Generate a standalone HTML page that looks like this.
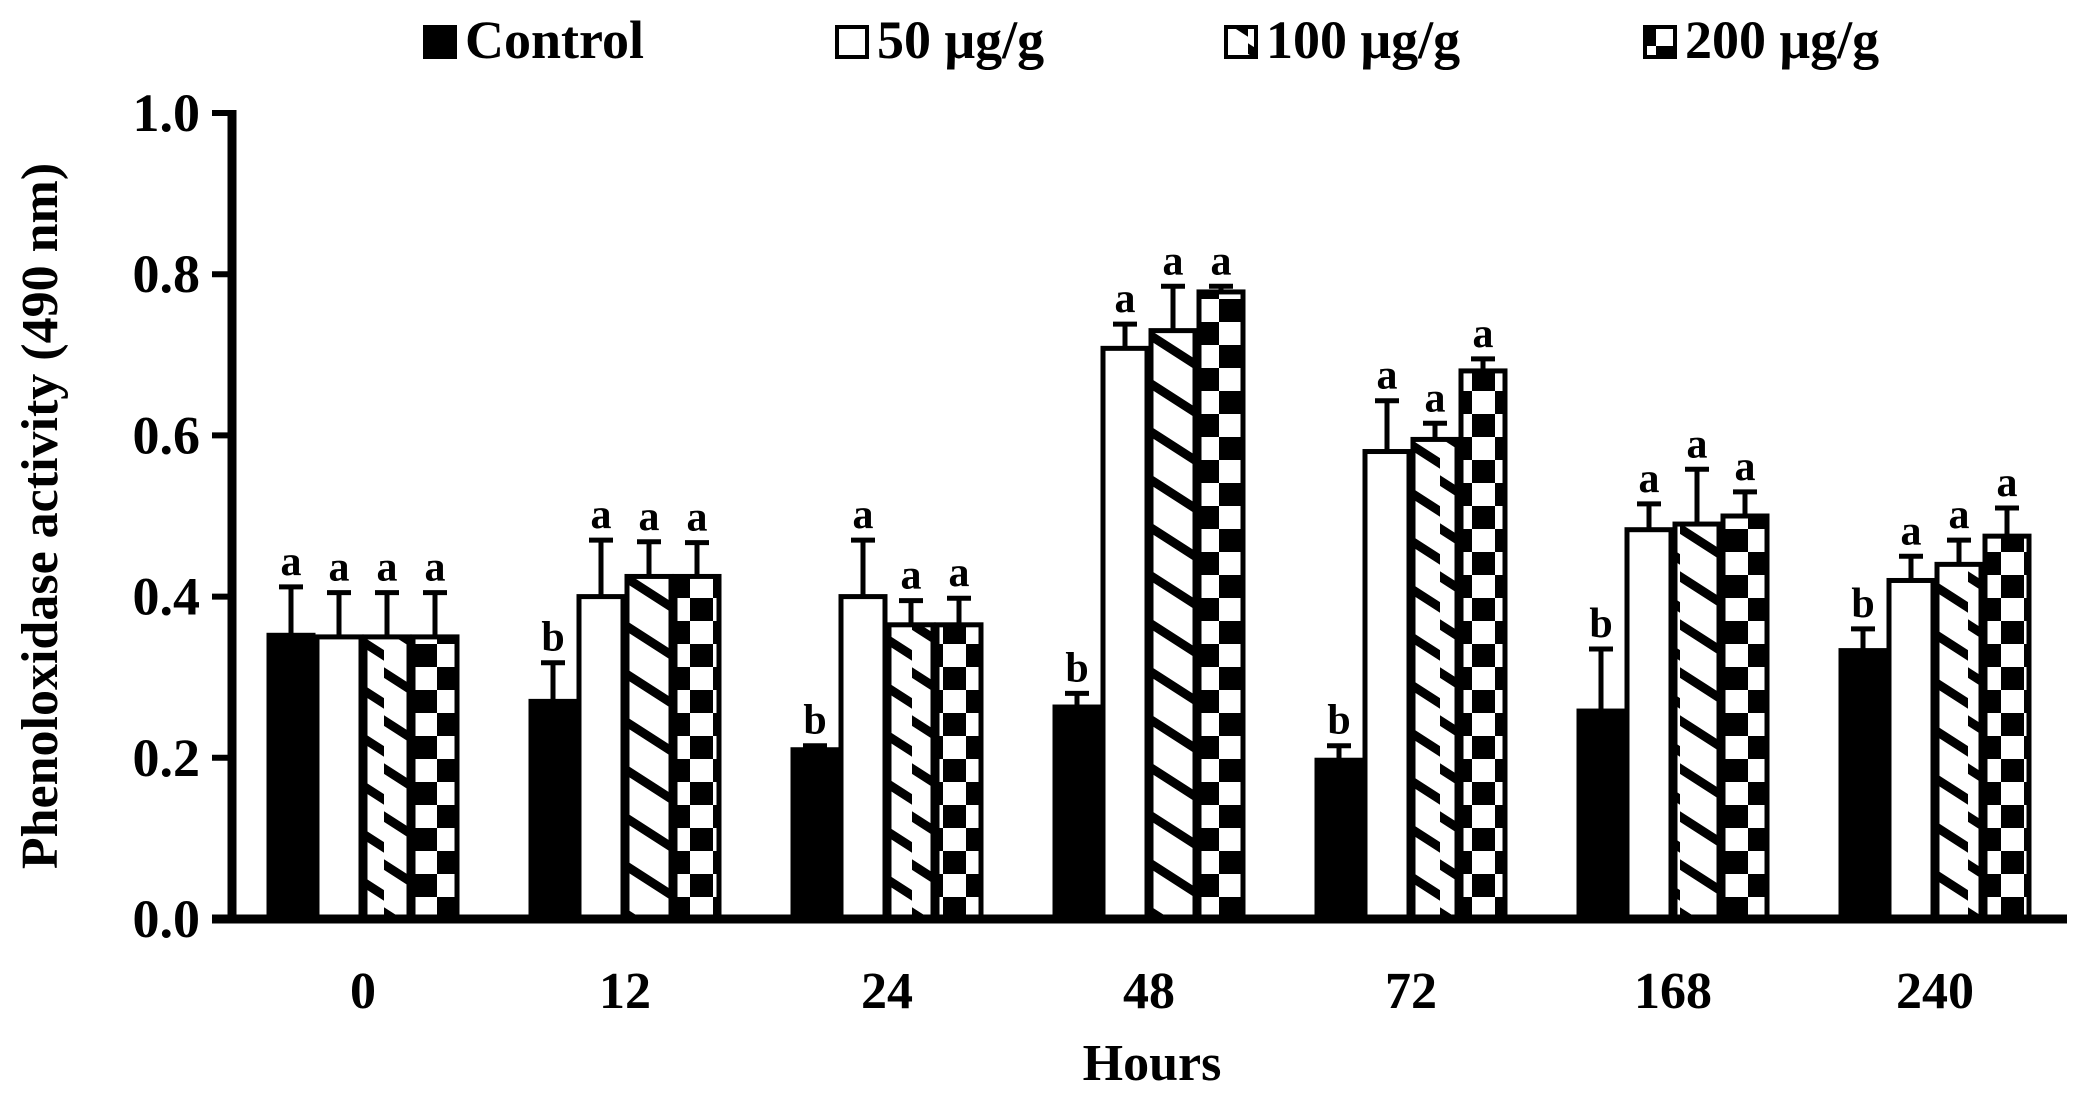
<!DOCTYPE html>
<html><head><meta charset="utf-8"><style>
html,body{margin:0;padding:0;background:#fff;}
svg{display:block;font-family:"Liberation Serif",serif;font-weight:bold;}
</style></head><body>
<svg id="chart" width="2086" height="1104" viewBox="0 0 2086 1104" xmlns="http://www.w3.org/2000/svg">
<defs>
<pattern id="diag" patternUnits="userSpaceOnUse" width="48" height="48">
<rect width="48" height="48" fill="#fff"/>
<path d="M-4,-50 L52,-14 M-4,-2 L52,34 M-4,46 L52,82" stroke="#000" stroke-width="9" fill="none"/>
</pattern>
<pattern id="check" patternUnits="userSpaceOnUse" width="46" height="46">
<rect width="46" height="46" fill="#fff"/>
<rect x="0" y="0" width="23" height="23" fill="#000"/>
<rect x="23" y="23" width="23" height="23" fill="#000"/>
</pattern>
</defs>
<g id="plot"></g>
</svg>
<script>
const categories = ["0","12","24","48","72","168","240"];
const seriesNames = ["Control","50 μg/g","100 μg/g","200 μg/g"];
const control = [0.352,0.27,0.21,0.263,0.197,0.258,0.333];
const dose50 = [0.35,0.40,0.40,0.708,0.58,0.483,0.42];
const dose100 = [0.35,0.425,0.365,0.73,0.595,0.49,0.44];
const dose200 = [0.35,0.425,0.365,0.778,0.68,0.50,0.475];
const errControl = [0.06,0.048,0.005,0.017,0.018,0.077,0.027];
const err50 = [0.055,0.07,0.07,0.03,0.063,0.032,0.03];
const err100 = [0.055,0.043,0.03,0.055,0.02,0.068,0.03];
const err200 = [0.055,0.042,0.033,0.007,0.015,0.03,0.035];
const lettersControl = ["a","b","b","b","b","b","b"];
const letters50 = ["a","a","a","a","a","a","a"];
const letters100 = ["a","a","a","a","a","a","a"];
const letters200 = ["a","a","a","a","a","a","a"];
const yTicks = [0,0.2,0.4,0.6,0.8,1.0];

const NS="http://www.w3.org/2000/svg";
const g=document.getElementById('plot');
const x0=232, y0=919, yTop=113, groupStart=363, groupStep=262, barW=48;
const yScale=v=>y0-(v/1.0)*(y0-yTop);
const xGroup=i=>groupStart+i*groupStep;
function mk(tag,attrs){const e=document.createElementNS(NS,tag);for(const k in attrs)e.setAttribute(k,attrs[k]);g.appendChild(e);return e;}

const series=[control,dose50,dose100,dose200];
const errs=[errControl,err50,err100,err200];
const letters=[lettersControl,letters50,letters100,letters200];
const fills=["#000","#fff","url(#diag)","url(#check)"];

categories.forEach((c,i)=>{
  series.forEach((s,j)=>{
    const left=xGroup(i)-2*barW+j*barW;
    const top=yScale(s[i]);
    const r=mk('rect',{x:left+2,y:top,width:barW-4,height:y0-top,fill:fills[j],stroke:"#000","stroke-width":5});
    
    
    const cx=left+barW/2;
    const et=yScale(s[i]+errs[j][i]);
    const e=mk('path',{d:`M${cx},${top} L${cx},${et} M${cx-12},${et} L${cx+12},${et}`,stroke:"#000","stroke-width":5,fill:"none"});
    
    
    const t=mk('text',{x:cx,y:et-12,"font-size":42,"text-anchor":"middle"});
    t.textContent=letters[j][i];
    
    
  });
  const tl=mk('text',{x:xGroup(i),y:1008,"font-size":52,"text-anchor":"middle"});
  tl.textContent=c;
  
  
});

yTicks.forEach(v=>{
  const y=yScale(v);
  const tk=mk('line',{x1:x0-20,x2:x0,y1:y,y2:y,stroke:"#000","stroke-width":6});
  
  
  const t=mk('text',{x:200,y:y+18,"font-size":54,"text-anchor":"end"});
  t.textContent=v.toFixed(1);
  
  
});

const ya=mk('line',{x1:x0,x2:x0,y1:yTop-3,y2:y0+4,stroke:"#000","stroke-width":9});


const xa=mk('line',{x1:x0-20,x2:2067,y1:y0,y2:y0,stroke:"#000","stroke-width":9});



const xt=mk('text',{x:1152,y:1080,"font-size":52,"text-anchor":"middle"});
xt.textContent="Hours";


const yt=mk('text',{x:0,y:0,"font-size":52,"text-anchor":"middle",transform:"translate(57,516) rotate(-90)"});
yt.textContent="Phenoloxidase activity (490 nm)";



const legX=[423,835,1224,1643];
const legFill=["#000","#fff","url(#diag)","url(#check)"];
seriesNames.forEach((n,j)=>{
  const b=mk('rect',{x:legX[j]+2,y:27,width:30,height:30,fill:legFill[j],stroke:"#000","stroke-width":4});
  
  
  const t=mk('text',{x:legX[j]+42,y:58,"font-size":54});
  t.textContent=n;
  
  
});
</script>
</body></html>
